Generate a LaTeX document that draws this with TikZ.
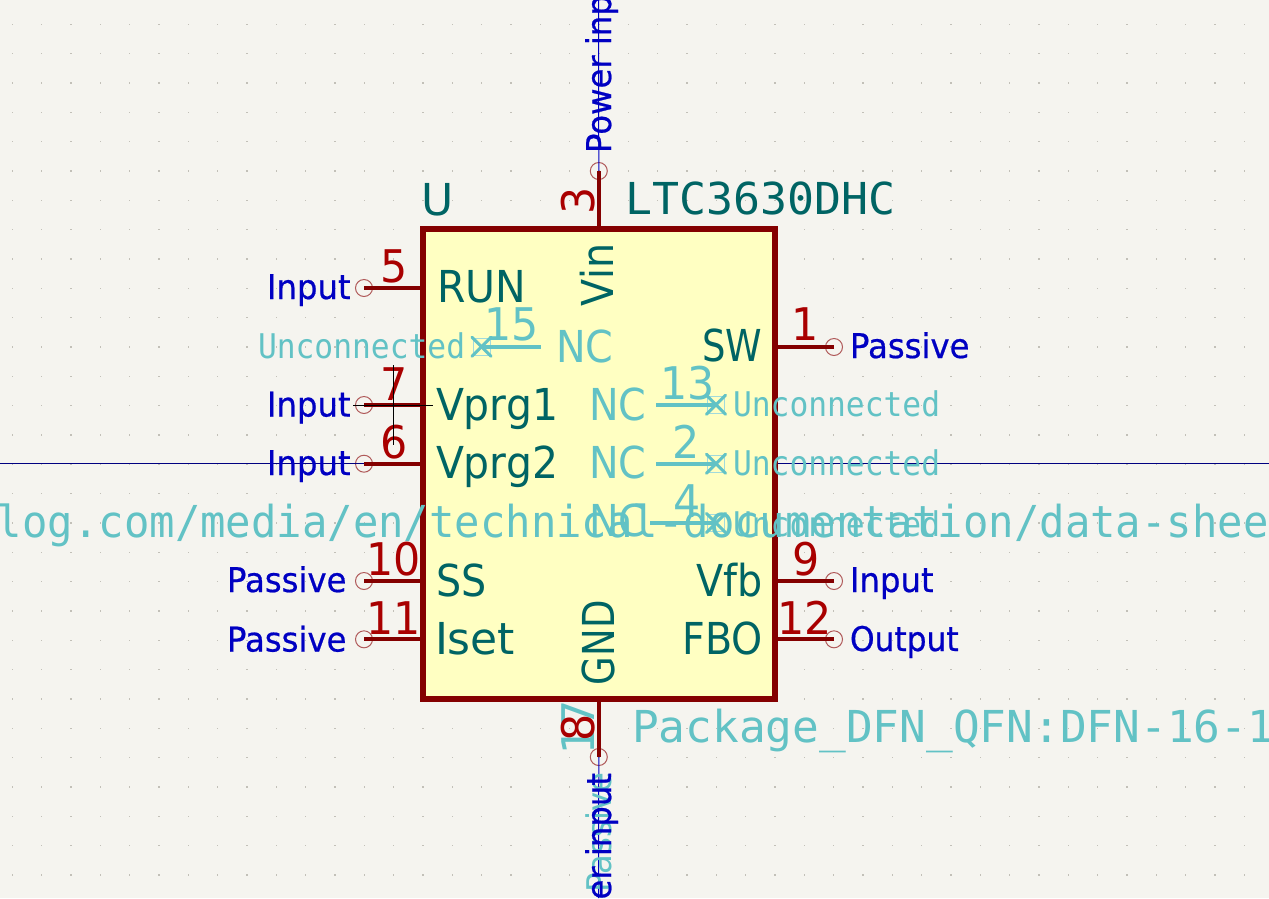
\documentclass[tikz,border=0pt]{standalone}
\usepackage{fontspec}
\setmainfont{DejaVu Sans}
\newfontfamily\kifont[FakeStretch=0.9]{DejaVu Sans}
\newfontfamily\kifontN[FakeStretch=0.84]{DejaVu Sans}
\newfontfamily\kifontW[FakeStretch=0.93]{DejaVu Sans}
\newfontfamily\kifontF[FakeStretch=1.0]{DejaVu Sans}
\newfontfamily\kitype[FakeStretch=0.95,FakeBold=0.6]{DejaVu Sans}
\newfontfamily\kitypeO[FakeStretch=0.92,FakeBold=0.6]{DejaVu Sans}
\newfontfamily\kihid[FakeStretch=0.95]{DejaVu Sans}
\newfontfamily\kimonoA[FakeStretch=0.96]{DejaVu Sans Mono}
\newfontfamily\kimonoB[FakeStretch=1.01]{DejaVu Sans Mono}
\newfontfamily\kimonoC[FakeStretch=1.02]{DejaVu Sans Mono}
\newfontfamily\kimonoT[FakeStretch=0.92]{DejaVu Sans Mono}
\definecolor{bgc}{HTML}{F5F4EF}
\definecolor{gridc}{HTML}{C2C0B8}
\definecolor{bodyc}{HTML}{840000}
\definecolor{fillc}{HTML}{FFFFC2}
\definecolor{namec}{HTML}{006464}
\definecolor{numc}{HTML}{A90000}
\definecolor{typec}{HTML}{0000C2}
\definecolor{hidc}{HTML}{62C2C5}
\definecolor{ringc}{HTML}{B05A5A}
\definecolor{navyc}{HTML}{000080}
\tikzset{
  txt/.style={inner sep=0pt,outer sep=0pt,anchor=base west},
  pinname/.style={txt,text=namec,font=\fontsize{44}{44}\kifont},
  pinnamew/.style={txt,text=namec,font=\fontsize{44}{44}\kifontW},
  pinnamen/.style={txt,text=namec,font=\fontsize{44}{44}\kifontN},
  pinnum/.style={txt,text=numc,font=\fontsize{45}{45}\kihid},
  hidnum/.style={txt,text=hidc,font=\fontsize{45}{45}\kihid},
  hidname/.style={txt,text=hidc,font=\fontsize{44}{44}\kifont},
  typelab/.style={txt,text=typec,font=\fontsize{34}{34}\kitype},
  hidtype/.style={txt,text=hidc,font=\fontsize{34}{34}\kimonoT},
  hidpas/.style={txt,text=hidc,font=\fontsize{34}{34}\kihid},
  ring/.style={draw=ringc,line width=1pt,fill=none,circle,minimum size=17pt,inner sep=0pt},
  pinline/.style={draw=bodyc,line width=4pt},
  hidline/.style={draw=hidc,line width=4pt},
  ncmark/.style={draw=hidc,line width=3pt,line cap=round},
  ncbox/.style={draw=hidc!60,line width=.7pt,fill=none,minimum size=17pt,inner sep=0pt},
  thinwire/.style={draw=navyc,line width=1pt},
  thinblue/.style={draw=typec,line width=1pt},
  crosshair/.style={draw=black,line width=1pt},
}
\newcommand\ncx[1]{%
  \draw[ncmark] ([shift={(-9.5,-9.5)}]#1.center) -- ([shift={(9.5,9.5)}]#1.center);
  \draw[ncmark] ([shift={(-9.5,9.5)}]#1.center) -- ([shift={(9.5,-9.5)}]#1.center);}
\begin{document}
\begin{tikzpicture}[x=1pt,y=-1pt]
\useasboundingbox (0,0) rectangle (1269,898);
\clip (0,0) rectangle (1269,898);
\fill[bgc] (0,0) rectangle (1269,898);
% grid
\foreach \i in {-17,...,26}{\foreach \j in {-1,...,30}{
  \fill[gridc] ({511+29.33*\i-.7},{24.3+29.33*\j-.7}) rectangle +(1.4,1.4);}}
% free wire ends
\coordinate (wl) at (0,463.7);
\coordinate (wr) at (1269,463.7);
\coordinate (wt) at (598.5,0);
\coordinate (wb) at (598.5,898);
% connection rings
\node[ring] (r5) at (364,288) {};
\node[ring] (r7) at (364,405) {};
\node[ring] (r6) at (364,463.7) {};
\node[ring] (r10) at (364,581) {};
\node[ring] (r11) at (364,639.3) {};
\node[ring] (r1) at (834,347) {};
\node[ring] (r9) at (834,581) {};
\node[ring] (r12) at (834,639.3) {};
\node[ring] (r3) at (598.8,171) {};
\node[ring] (r8) at (598.8,757) {};
\draw[thinwire] (wl) -- (r6.center);
\draw[thinwire] (wr) -- (775,463.7);
\draw[thinblue] (wt) -- (r3.center);
\draw[thinblue] (wb) -- (r8.center);
% body
\node[draw=bodyc,fill=fillc,line width=6pt,minimum width=352pt,minimum height=470pt,inner sep=0pt,outer sep=0pt] (ic) at (599,464) {};
% pins
\draw[pinline] (r5.center) -- (r5.center -| ic.west);
\draw[pinline] (r7.center) -- (r7.center -| ic.west);
\draw[pinline] (r6.center) -- (r6.center -| ic.west);
\draw[pinline] (r10.center) -- (r10.center -| ic.west);
\draw[pinline] (r11.center) -- (r11.center -| ic.west);
\draw[pinline] (r1.center) -- (r1.center -| ic.east);
\draw[pinline] (r9.center) -- (r9.center -| ic.east);
\draw[pinline] (r12.center) -- (r12.center -| ic.east);
\draw[pinline] (r3.center) -- (r3.center |- ic.north);
\draw[pinline] (r8.center) -- (r8.center |- ic.south);
% hidden NC pins
\node[ncbox] (n15) at (481.5,346.7) {};
\node[ncbox] (n13) at (716,404.7) {};
\node[ncbox] (n2) at (716,463.7) {};
\node[ncbox] (n4) at (716,523) {};
\coordinate (e15) at (541,346.7);
\coordinate (e13) at (656,404.7);
\coordinate (e2) at (656,463.7);
\coordinate (e4) at (650,523);
\draw[hidline] (n15.center) -- (e15);
\draw[hidline] (n13.center) -- (e13);
\draw[hidline] (n2.center) -- (e2);
\draw[hidline] (n4.center) -- (e4);
\ncx{n15}\ncx{n13}\ncx{n2}\ncx{n4}
% hidden fields
\node[txt,text=hidc,font=\fontsize{44}{44}\kimonoA] (url) at (-3,537) {log.com/media/en/technical-documentation/data-sheet};
\node[txt,text=hidc,font=\fontsize{44}{44}\kimonoB] (fp) at (632,742) {Package\_DFN\_QFN:DFN-16-1};
% hidden texts
\node[hidtype] (tu15) at (258,358) {Unconnected};
\node[hidtype] (tu13) at (733,416) {Unconnected};
\node[hidtype] (tu2) at (733,475) {Unconnected};
\node[hidtype] (tu4) at (733,536) {Unconnected};
\node[hidname] (nc15) at (556,362) {NC};
\node[hidname] (nc13) at (589,420) {NC};
\node[hidname] (nc2) at (589,478) {NC};
\node[hidname] (nc4) at (589,536) {NC};
\node[hidnum] (d15) at (484,340) {15};
\node[hidnum] (d13) at (660,399) {13};
\node[hidnum] (d2) at (672,458) {2};
\node[hidnum] (d4) at (673,517) {4};
\node[hidnum,rotate=90,anchor=base] (d17) at (594,727) {17};
\node[hidpas,rotate=90,anchor=base east] (tp17) at (611,773) {Passive};
% fields
\node[txt,text=namec,font=\fontsize{44}{44}\kifontF] (ref) at (421,215) {U};
\node[txt,text=namec,font=\fontsize{44}{44}\kimonoC] (val) at (625,214) {LTC3630DHC};
% pin names
\node[pinnamew] (nRUN) at (437,302) {RUN};
\node[pinnamew] (nV1) at (436,420) {Vprg1};
\node[pinnamew] (nV2) at (436,478) {Vprg2};
\node[pinname] (nSS) at (436,596) {SS};
\node[txt,text=namec,font=\fontsize{44}{44}\kifontF] (nIs) at (435,654) {Iset};
\node[pinnamen,anchor=base east] (nSW) at (762,361) {SW};
\node[pinname,anchor=base east] (nVf) at (763,596) {Vfb};
\node[pinname,anchor=base east] (nFB) at (763,654) {FBO};
\node[pinname,rotate=90] (nVin) at (613,306) {Vin};
\node[pinnamen,rotate=90] (nGND) at (614,685) {GND};
% pin numbers
\node[pinnum] (d5) at (380,282) {5};
\node[pinnum] (d7) at (380,400) {7};
\node[pinnum] (d6) at (380,458) {6};
\node[pinnum] (d10) at (366,575) {10};
\node[pinnum] (d11) at (366,634) {11};
\node[pinnum] (d1) at (791,340) {1};
\node[pinnum] (d9) at (792,575) {9};
\node[pinnum] (d12) at (777,634) {12};
\node[pinnum,rotate=90,anchor=base] (d3) at (594,201) {3};
\node[pinnum,rotate=90,anchor=base] (d8) at (594,728) {8};
% types
\node[typelab] (t5) at (267,299) {Input};
\node[typelab] (t7) at (267,416.5) {Input};
\node[typelab] (t6) at (267,475) {Input};
\node[typelab] (t10) at (227,592) {Passive};
\node[typelab] (t11) at (227,651.5) {Passive};
\node[typelab] (t1) at (850,358) {Passive};
\node[typelab] (t9) at (850,592) {Input};
\node[txt,text=typec,font=\fontsize{34}{34}\kitypeO] (t12) at (850,651) {Output};
\node[typelab,rotate=90] (t3) at (611,153) {Power input};
\node[typelab,rotate=90,anchor=base east] (t8) at (611,773) {Power input};
% crosshair
\coordinate (ca) at (353,405.5);
\coordinate (cb) at (433,405.5);
\coordinate (cc) at (393,365);
\coordinate (cd) at (393,445);
\draw[crosshair] (ca) -- (cb);
\draw[crosshair] (cc) -- (cd);
\end{tikzpicture}
\end{document}
